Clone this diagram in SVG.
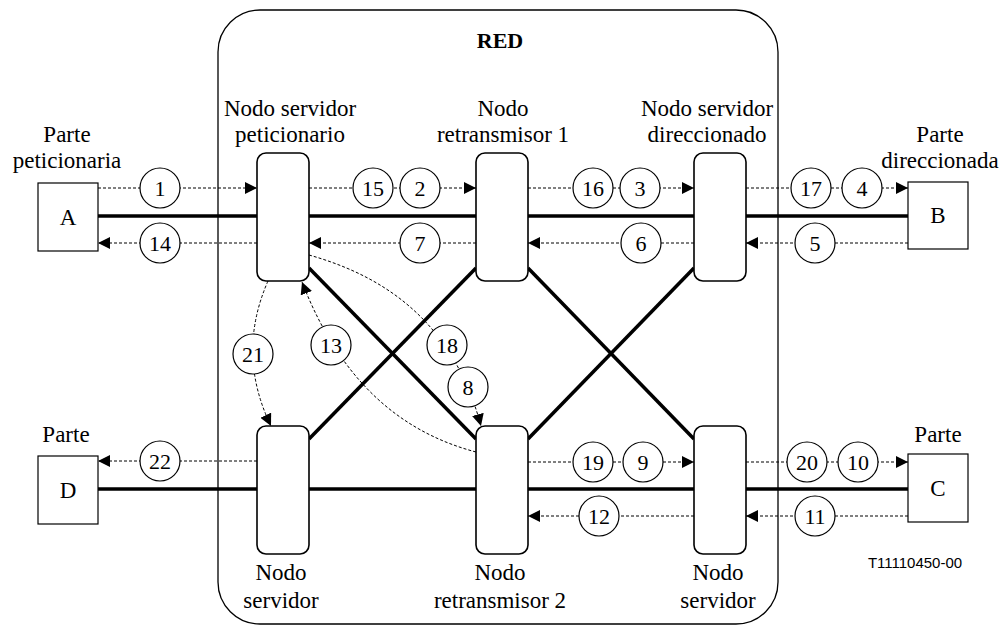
<svg xmlns="http://www.w3.org/2000/svg" width="1004" height="625" viewBox="0 0 1004 625">
<style>
text{font-family:'Liberation Serif',Tinos,'Noto Serif','DejaVu Serif',serif;font-size:23px;fill:#000;text-anchor:middle}
text.num{font-size:22px}
text.code{font-family:'Liberation Sans',Arial,sans-serif;font-size:15px}
text.red{font-weight:bold;font-size:22px}
.thick{stroke:#000;stroke-width:3.5;fill:none}
.dash{stroke:#000;stroke-width:1;stroke-dasharray:3,2;fill:none}
.lbl{fill:#fff;stroke:#000;stroke-width:1.2}
.box{fill:#fff;stroke:#000;stroke-width:1.2}
.node{fill:#fff;stroke:#000;stroke-width:1.6}
.net{fill:none;stroke:#000;stroke-width:1.3}
</style>
<defs>
<marker id="ah" markerUnits="userSpaceOnUse" markerWidth="12" markerHeight="12" refX="12" refY="6" orient="auto">
<path d="M0,0 L12,6 L0,12 z" fill="#000"/>
</marker>
</defs>
<rect width="1004" height="625" fill="#fff"/>
<g id="red">
<rect class="net" x="218" y="10" width="560" height="614" rx="42" ry="42"/>
<text class="red" x="500" y="48">RED</text>
</g>
<g id="connectors">
<path class="thick" d="M98,216 H908"/>
<path class="thick" d="M98,489 H908"/>
<path class="thick" d="M309,268 L476,439"/>
<path class="thick" d="M309,439 L476,268"/>
<path class="thick" d="M528,268 L694,439"/>
<path class="thick" d="M528,439 L694,268"/>
<path class="dash" d="M98,188 H257" marker-end="url(#ah)"/>
<path class="dash" d="M309,188 H476" marker-end="url(#ah)"/>
<path class="dash" d="M528,188 H694" marker-end="url(#ah)"/>
<path class="dash" d="M746,188 H908" marker-end="url(#ah)"/>
<path class="dash" d="M257,243 H98" marker-end="url(#ah)"/>
<path class="dash" d="M476,243 H309" marker-end="url(#ah)"/>
<path class="dash" d="M694,243 H528" marker-end="url(#ah)"/>
<path class="dash" d="M908,243 H746" marker-end="url(#ah)"/>
<path class="dash" d="M257,461 H98" marker-end="url(#ah)"/>
<path class="dash" d="M528,462 H694" marker-end="url(#ah)"/>
<path class="dash" d="M746,462 H908" marker-end="url(#ah)"/>
<path class="dash" d="M694,516 H528" marker-end="url(#ah)"/>
<path class="dash" d="M908,516 H746" marker-end="url(#ah)"/>
<path class="dash" d="M268,281 Q236,354 271,426" marker-end="url(#ah)"/>
<path class="dash" d="M476,452 C400,432 340,380 302,282" marker-end="url(#ah)"/>
<path class="dash" d="M309,255 C380,275 452,318 481,426" marker-end="url(#ah)"/>
<g id="labels">
<circle class="lbl" cx="160" cy="188" r="20"/><text class="num" x="160" y="196">1</text>
<circle class="lbl" cx="373" cy="188" r="20"/><text class="num" x="373" y="196">15</text>
<circle class="lbl" cx="420" cy="188" r="20"/><text class="num" x="420" y="196">2</text>
<circle class="lbl" cx="593" cy="188" r="20"/><text class="num" x="593" y="196">16</text>
<circle class="lbl" cx="640" cy="188" r="20"/><text class="num" x="640" y="196">3</text>
<circle class="lbl" cx="811" cy="188" r="20"/><text class="num" x="811" y="196">17</text>
<circle class="lbl" cx="862" cy="188" r="20"/><text class="num" x="862" y="196">4</text>
<circle class="lbl" cx="160" cy="243" r="20"/><text class="num" x="160" y="251">14</text>
<circle class="lbl" cx="420" cy="243" r="20"/><text class="num" x="420" y="251">7</text>
<circle class="lbl" cx="641" cy="243" r="20"/><text class="num" x="641" y="251">6</text>
<circle class="lbl" cx="815" cy="243" r="20"/><text class="num" x="815" y="251">5</text>
<circle class="lbl" cx="160" cy="461" r="20"/><text class="num" x="160" y="469">22</text>
<circle class="lbl" cx="593" cy="462" r="20"/><text class="num" x="593" y="470">19</text>
<circle class="lbl" cx="643" cy="462" r="20"/><text class="num" x="643" y="470">9</text>
<circle class="lbl" cx="807" cy="462" r="20"/><text class="num" x="807" y="470">20</text>
<circle class="lbl" cx="858" cy="462" r="20"/><text class="num" x="858" y="470">10</text>
<circle class="lbl" cx="599" cy="516" r="20"/><text class="num" x="599" y="524">12</text>
<circle class="lbl" cx="815" cy="516" r="20"/><text class="num" x="815" y="524">11</text>
<circle class="lbl" cx="253" cy="354" r="20"/><text class="num" x="253" y="362">21</text>
<circle class="lbl" cx="331" cy="345" r="20"/><text class="num" x="331" y="353">13</text>
<circle class="lbl" cx="447" cy="345" r="20"/><text class="num" x="447" y="353">18</text>
<circle class="lbl" cx="468" cy="387" r="20"/><text class="num" x="468" y="395">8</text>
</g>
</g>
<g id="partyA">
<rect class="box" x="38" y="183" width="60" height="68"/>
<text x="68" y="225">A</text>
<text x="67" y="142">Parte</text>
<text x="67" y="168">peticionaria</text>
</g>
<g id="partyB">
<rect class="box" x="908" y="182" width="60" height="67"/>
<text x="938" y="223">B</text>
<text x="940" y="142">Parte</text>
<text x="940" y="168">direccionada</text>
</g>
<g id="partyD">
<rect class="box" x="38" y="456" width="60" height="68"/>
<text x="68" y="498">D</text>
<text x="66" y="442">Parte</text>
</g>
<g id="partyC">
<rect class="box" x="908" y="454" width="60" height="68"/>
<text x="938" y="496">C</text>
<text x="938" y="442">Parte</text>
</g>
<g id="nodoServidorPeticionario">
<rect class="node" x="257" y="153" width="52" height="128" rx="9"/>
<text x="290" y="116">Nodo servidor</text>
<text x="290" y="142">peticionario</text>
</g>
<g id="nodoRetransmisor1">
<rect class="node" x="476" y="153" width="52" height="128" rx="9"/>
<text x="503" y="116">Nodo</text>
<text x="503" y="142">retransmisor 1</text>
</g>
<g id="nodoServidorDireccionado">
<rect class="node" x="694" y="153" width="52" height="128" rx="9"/>
<text x="707" y="116">Nodo servidor</text>
<text x="707" y="142">direccionado</text>
</g>
<g id="nodoServidorD">
<rect class="node" x="257" y="426" width="52" height="128" rx="9"/>
<text x="281" y="580">Nodo</text>
<text x="281" y="608">servidor</text>
</g>
<g id="nodoRetransmisor2">
<rect class="node" x="476" y="426" width="52" height="128" rx="9"/>
<text x="500" y="580">Nodo</text>
<text x="500" y="608">retransmisor 2</text>
</g>
<g id="nodoServidorC">
<rect class="node" x="694" y="426" width="52" height="128" rx="9"/>
<text x="718" y="580">Nodo</text>
<text x="718" y="608">servidor</text>
</g>
<text class="code" x="915" y="568">T11110450-00</text>
</svg>
